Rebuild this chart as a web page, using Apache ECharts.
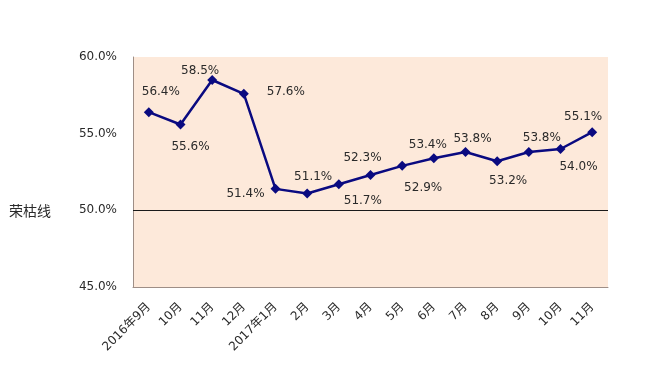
<!DOCTYPE html>
<html>
<head>
<meta charset="utf-8">
<script src="https://cdn.jsdelivr.net/npm/echarts@6/dist/echarts.min.js"></script>
<style>
html,body{margin:0;padding:0;background:#fff;}
#chart{width:651px;height:391px;}
</style>
</head>
<body>
<div id="chart"></div>
<script>
const categories = ['2016年9月','10月','11月','12月','2017年1月','2月','3月','4月','5月','6月','7月','8月','9月','10月','11月'];
const pmiValues = [56.4, 55.6, 58.5, 57.6, 51.4, 51.1, 51.7, 52.3, 52.9, 53.4, 53.8, 53.2, 53.8, 54.0, 55.1];
const yTicks = { min: 45, max: 60, interval: 5 };
const thresholdValue = 50;
const thresholdName = '荣枯线';

// label placement (style only)
const labelOffsets = [[12,-20],[10,22],[-12,-9],[42,-2],[-30,5],[6,-17],[24,17],[-8,-17],[21,22],[-6,-13],[7,-13],[11,20],[13,-14],[18,18],[-9,-15]];

const FONT = '"DejaVu Sans", "Noto Sans CJK SC", sans-serif';

const chart = echarts.init(document.getElementById('chart'));
chart.setOption({
  animation: false,
  backgroundColor: '#fff',
  grid: { left: 133, right: 43, top: 57, bottom: 104, show: true, backgroundColor: '#FDE9DA', borderWidth: 0 },
  xAxis: {
    type: 'category',
    data: categories,
    boundaryGap: true,
    axisLine: { lineStyle: { color: '#9e8e86', width: 1 } },
    axisTick: { show: false },
    axisLabel: { interval: 0, rotate: 45, margin: 18, fontSize: 12, color: '#2a2a2a', fontFamily: FONT }
  },
  yAxis: {
    type: 'value',
    min: yTicks.min, max: yTicks.max, interval: yTicks.interval,
    axisLine: { show: true, lineStyle: { color: '#9e8e86', width: 1 } },
    axisTick: { show: false },
    splitLine: { show: false },
    axisLabel: { margin: 16, fontSize: 12, color: '#2a2a2a', fontFamily: FONT, formatter: v => v.toFixed(1) + '%' }
  },
  series: [{
    type: 'line',
    data: pmiValues.map((v, i) => ({
      value: v,
      label: { position: 'inside', offset: labelOffsets[i] }
    })),
    symbol: 'diamond',
    symbolSize: 10,
    lineStyle: { color: '#0A0A80', width: 2.5 },
    itemStyle: { color: '#0A0A80' },
    label: { show: true, fontSize: 12, color: '#2a2a2a', fontFamily: FONT, formatter: p => p.value.toFixed(1) + '%' },
    markLine: {
      silent: true,
      symbol: 'none',
      lineStyle: { color: '#1a1a1a', width: 1, type: 'solid' },
      label: { show: true, position: 'start', distance: 82, formatter: thresholdName, fontSize: 14, color: '#2a2a2a', fontFamily: '"Noto Sans CJK SC"' },
      data: [{ yAxis: thresholdValue }]
    }
  }]
});
</script>
</body>
</html>
